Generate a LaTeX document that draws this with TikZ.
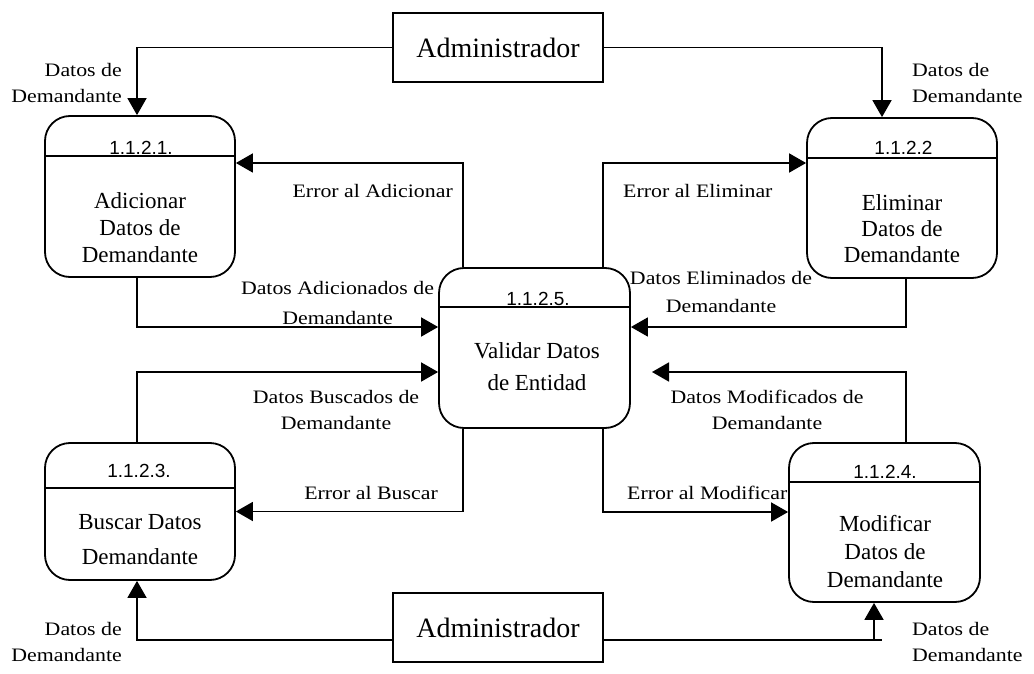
\documentclass[tikz,border=0pt]{standalone}
\usepackage{fontspec}
\setmainfont{Liberation Serif}
\newfontfamily\hdrfont{Liberation Sans}
\newfontfamily\lblfont{Liberation Serif}[FakeStretch=1.15]
\usetikzlibrary{arrows.meta,calc}

\begin{document}
\begin{tikzpicture}[x=1pt,y=-1pt,
  proc/.style={draw,line width=1.8pt,rounded corners=25pt,inner sep=0pt},
  entity/.style={draw,line width=1.8pt,inner sep=0pt,minimum width=210pt,minimum height=69pt,
    font=\fontsize{28}{32}\selectfont},
  sep/.style={line width=1.8pt},
  hdr/.style={anchor=base,inner sep=0pt,font=\hdrfont\fontsize{19}{22}\selectfont},
  body/.style={align=center,inner sep=0pt},
  lbl/.style={inner sep=0pt,font=\lblfont\fontsize{19}{26}\selectfont},
  flow/.style={line width=1.8pt,-{Triangle[length=17pt,width=19pt]}},
  plain/.style={line width=1.8pt}]

\useasboundingbox (0,0) rectangle (1034,674);

% external entities
\node[entity] (a1) at (498,47.5) {Administrador};
\node[entity] (a2) at (498,627.5) {Administrador};

% processes
\node[proc,minimum width=190pt,minimum height=161pt] (p1) at (140,196.5) {};
\node[proc,minimum width=190pt,minimum height=160pt] (p2) at (902,198) {};
\node[proc,minimum width=190pt,minimum height=137pt] (p3) at (140,511.5) {};
\node[proc,minimum width=191pt,minimum height=159pt] (p4) at (884.5,522.5) {};
\node[proc,minimum width=191pt,minimum height=160pt] (p5) at (534.5,348) {};

% header separators
\draw[sep] (p1.west |- 0,156) -- (p1.east |- 0,156);
\draw[sep] (p2.west |- 0,158) -- (p2.east |- 0,158);
\draw[sep] (p3.west |- 0,488) -- (p3.east |- 0,488);
\draw[sep] (p4.west |- 0,482) -- (p4.east |- 0,482);
\draw[sep] (p5.west |- 0,307) -- (p5.east |- 0,307);

% process numbers
\node[hdr] (h1) at (141,155) {1.1.2.1.};
\node[hdr] (h2) at (903.5,155) {1.1.2.2};
\node[hdr] (h3) at (139,477) {1.1.2.3.};
\node[hdr] (h4) at (885,478) {1.1.2.4.};
\node[hdr] (h5) at (538,305) {1.1.2.5.};

% process names
\node[body,font=\fontsize{23}{27}\selectfont] (t1) at (140,228) {Adicionar\\Datos de\\Demandante};
\node[body,font=\fontsize{23}{26}\selectfont] (t2) at (902,229) {Eliminar\\Datos de\\Demandante};
\node[body,font=\fontsize{23}{35}\selectfont] (t3) at (140,540) {Buscar Datos\\Demandante};
\node[body,font=\fontsize{23}{28}\selectfont] (t4) at (885,552) {Modificar\\Datos de\\Demandante};
\node[body,font=\fontsize{23}{32}\selectfont] (t5) at (537,367) {Validar Datos\\de Entidad};

% coordinates for free line ends
\coordinate (mtip) at (652,372);
\coordinate (rend) at (882,640);
\coordinate (rfoot) at (874,640);

% data flows
\draw[flow] (a1.west) -| ([xshift=-3pt]p1.north);
\draw[flow] (a1.east) -| ([xshift=-20pt]p2.north);
\draw[flow] ([xshift=-71.5pt]p5.north) |- ([yshift=33.5pt]p1.east);
\draw[flow] ([xshift=68.5pt]p5.north) |- ([yshift=35pt]p2.west);
\draw[flow] ([xshift=-3pt]p1.south) |- ([yshift=21pt]p5.west);
\draw[flow] ([xshift=4pt]p2.south) |- ([yshift=21pt]p5.east);
\draw[flow] ([xshift=-3pt]p3.north) |- ([yshift=-24pt]p5.west);
\draw[flow] ([xshift=21.5pt]p4.north) |- (mtip);
\draw[flow] ([xshift=-71.5pt]p5.south) |- (p3.east);
\draw[flow] ([xshift=68.5pt]p5.south) |- ([yshift=10.5pt]p4.west);
\draw[flow] ([yshift=-12.5pt]a2.west) -| ([xshift=-3pt]p3.south);
\draw[plain] ([yshift=-12.5pt]a2.east) -- (rend);
\draw[flow] (rfoot) -- (rfoot |- p4.south);

% flow labels
\node[lbl,anchor=east,align=right] (l1) at (122,83) {Datos de\\Demandante};
\node[lbl,anchor=west,align=left] (l2) at (912,83) {Datos de\\Demandante};
\node[lbl,anchor=east,align=right] (l3) at (122,641.5) {Datos de\\Demandante};
\node[lbl,anchor=west,align=left] (l4) at (912,641.5) {Datos de\\Demandante};
\node[lbl,anchor=east] (l5) at (453,191) {Error al Adicionar};
\node[lbl,anchor=west] (l6) at (623,191) {Error al Eliminar};
\node[lbl,align=center,font=\lblfont\fontsize{19}{30}\selectfont] (l7) at (337.5,303) {Datos Adicionados de\\Demandante};
\node[lbl,align=center,font=\lblfont\fontsize{19}{28}\selectfont] (l8) at (721,292) {Datos Eliminados de\\Demandante};
\node[lbl,align=center] (l9) at (336,410) {Datos Buscados de\\Demandante};
\node[lbl,align=center] (l10) at (767,410) {Datos Modificados de\\Demandante};
\node[lbl,anchor=east] (l11) at (438,493) {Error al Buscar};
\node[lbl,anchor=west] (l12) at (627,493) {Error al Modificar};

\end{tikzpicture}
\end{document}
